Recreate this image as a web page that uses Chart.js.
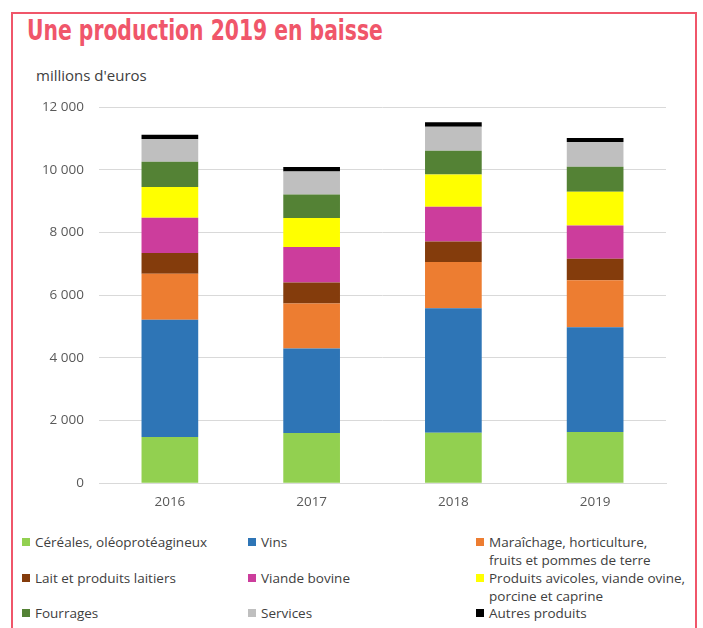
<!DOCTYPE html>
<html lang="fr">
<head>
<meta charset="utf-8">
<script src="https://cdn.jsdelivr.net/npm/chart.js@4"></script>
<style>
  body { margin: 0; background: #fff; }
  #page { position: relative; width: 703px; height: 628px; overflow: hidden; font-family: "Open Sans", sans-serif; color: #404040; }
  #frame { position: absolute; left: 11px; top: 12px; width: 682px; height: 640px; border: 2px solid #f0566a; }
  #title { position: absolute; left: 27px; top: 13px; font-family: "DejaVu Sans", sans-serif; font-stretch: condensed; font-weight: bold; font-size: 29px; line-height: 34px; color: #f0566a; white-space: nowrap; transform-origin: 0 0; }
  #unit { position: absolute; left: 36px; top: 65px; font-size: 15px; line-height: 20px; }
  #wrap { position: absolute; left: 0; top: 90px; width: 703px; height: 430px; }
  .leg { position: absolute; font-size: 13.5px; line-height: 18px; white-space: pre-line; padding-left: 13px; }
  .leg i { position: absolute; left: 0; top: 5px; width: 8px; height: 8px; }
</style>
</head>
<body>
<div id="page">
  <div id="frame"></div>
  <div id="title">Une production 2019 en baisse</div>
  <div id="unit">millions d'euros</div>
  <div id="wrap"><canvas id="chart"></canvas></div>
  <div id="legend"></div>
</div>
<script>
const years = ["2016", "2017", "2018", "2019"];

const seriesNames = [
  "Céréales, oléoprotéagineux",
  "Vins",
  "Maraîchage, horticulture,\nfruits et pommes de terre",
  "Lait et produits laitiers",
  "Viande bovine",
  "Produits avicoles, viande ovine,\nporcine et caprine",
  "Fourrages",
  "Services",
  "Autres produits"
];

const seriesColors = ["#92d050", "#2e75b6", "#ed7d31", "#843c0c", "#cc3d9c", "#ffff00", "#548235", "#bfbfbf", "#000000"];

// millions d'euros
const cereales   = [1478, 1606, 1615, 1637];
const vins       = [3734, 2690, 3971, 3342];
const maraichage = [1469, 1437, 1468, 1500];
const lait       = [660, 670, 657, 680];
const bovine     = [1127, 1130, 1108, 1063];
const avicoles   = [980, 925, 1031, 1076];
const fourrages  = [807, 754, 756, 798];
const services   = [725, 734, 766, 788];
const autres     = [137, 140, 138, 128];

const seriesValues = [cereales, vins, maraichage, lait, bovine, avicoles, fourrages, services, autres];

const yTicks = [0, 2000, 4000, 6000, 8000, 10000, 12000];

function fmt(v) {
  return String(v).replace(/\B(?=(\d{3})+(?!\d))/g, " ");
}

// titre : police étroite, on ajuste la largeur
const title = document.getElementById("title");
title.style.transform = "scaleX(" + (356 / title.offsetWidth) + ")";

const ctx = document.getElementById("chart").getContext("2d");
new Chart(ctx, {
  type: "bar",
  data: {
    labels: years,
    datasets: seriesNames.map((name, i) => ({
      label: name,
      data: seriesValues[i],
      backgroundColor: seriesColors[i],
      borderWidth: 0,
      barPercentage: 0.4,
      categoryPercentage: 1
    }))
  },
  options: {
    responsive: true,
    maintainAspectRatio: false,
    animation: false,
    layout: { padding: { top: 17, right: 37, bottom: 0, left: 0 } },
    plugins: { legend: { display: false }, tooltip: { enabled: false } },
    scales: {
      x: {
        stacked: true,
        grid: { display: false, drawTicks: false },
        border: { color: "#d9d9d9", width: 1 },
        ticks: { color: "#595959", font: { family: "Open Sans", size: 13.5 }, padding: 11 },
        afterFit: (s) => { s.height = 36.7; }
      },
      y: {
        stacked: true,
        min: 0,
        max: 12000,
        afterBuildTicks: (s) => { s.ticks = yTicks.map(v => ({ value: v })); },
        grid: { color: "#d9d9d9", drawTicks: false },
        border: { display: false },
        ticks: { color: "#595959", font: { family: "Open Sans", size: 13.5 }, padding: 15, callback: (v) => fmt(v) },
        afterFit: (s) => { s.width = 99; s.paddingTop = 0; s.paddingBottom = 0; }
      }
    }
  }
});

// légende sur trois colonnes
const colX = [22, 248, 476];
const rowY = [533, 569, 604];
const legend = document.getElementById("legend");
seriesNames.forEach((name, i) => {
  const d = document.createElement("div");
  d.className = "leg";
  d.style.left = colX[i % 3] + "px";
  d.style.top = rowY[Math.floor(i / 3)] + "px";
  const sq = document.createElement("i");
  sq.style.background = seriesColors[i];
  d.appendChild(sq);
  d.appendChild(document.createTextNode(name));
  legend.appendChild(d);
});
</script>
</body>
</html>
